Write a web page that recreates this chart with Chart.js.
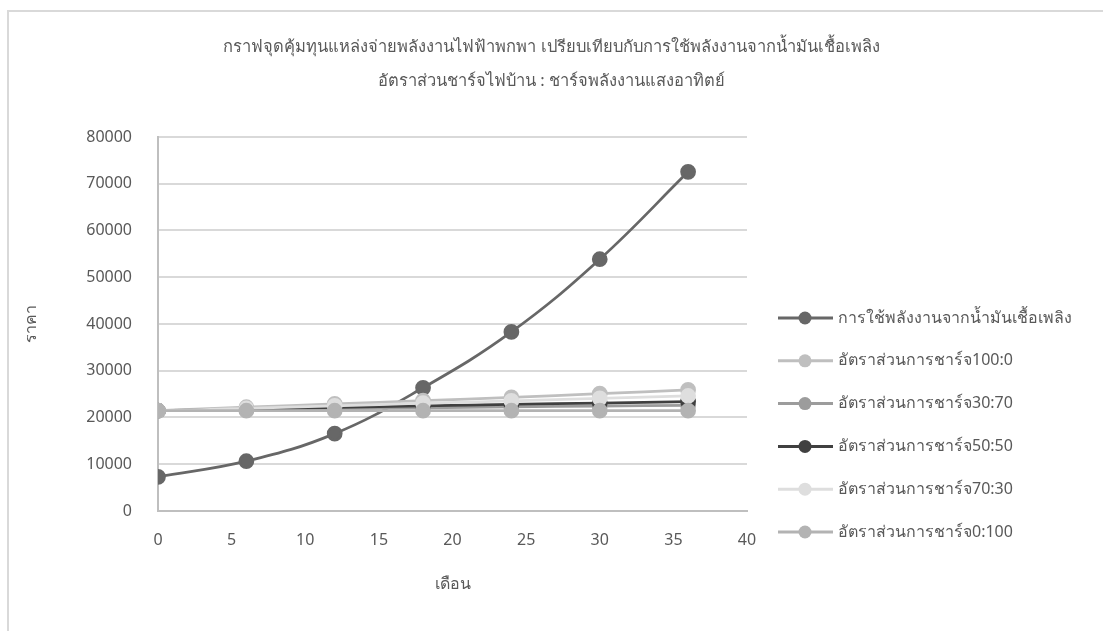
<!DOCTYPE html>
<html>
<head>
<meta charset="utf-8">
<script src="https://cdn.jsdelivr.net/npm/chart.js@4.4.0/dist/chart.umd.min.js"></script>
<style>
  body { margin: 0; background: #fff; }
  #wrap { position: relative; width: 1103px; height: 631px; }
  #frame { position: absolute; left: 7px; top: 10px; right: 0; bottom: 0;
           border-left: 2px solid #d9d9d9; border-top: 2px solid #d9d9d9; }
  canvas { position: absolute; left: 0; top: 0; }
</style>
</head>
<body>
<div id="wrap">
  <div id="frame"></div>
  <canvas id="bepChart" width="1103" height="631"></canvas>
</div>
<script>
// เดือน (แกน x)
const months = [0, 6, 12, 18, 24, 30, 36];

// ราคา (แกน y) ของแต่ละชุดข้อมูล
const fuelCost = [7300, 10650, 16550, 26350, 38300, 53850, 72550];
const ratio100_0 = [21450, 22200, 22900, 23600, 24300, 25100, 25900];
const ratio30_70 = [21450, 21650, 21850, 22050, 22250, 22450, 22600];
const ratio50_50 = [21450, 21800, 22150, 22500, 22800, 23100, 23400];
const ratio70_30 = [21450, 21950, 22500, 23050, 23550, 24100, 24600];
const ratio0_100 = [21450, 21450, 21450, 21450, 21450, 21450, 21450];

const seriesNames = [
    'การใช้พลังงานจากน้ำมันเชื้อเพลิง',
    'อัตราส่วนการชาร์จ100:0',
    'อัตราส่วนการชาร์จ30:70',
    'อัตราส่วนการชาร์จ50:50',
    'อัตราส่วนการชาร์จ70:30',
    'อัตราส่วนการชาร์จ0:100'
];
const seriesValues = [fuelCost, ratio100_0, ratio30_70, ratio50_50, ratio70_30, ratio0_100];
const seriesColors = ['#676767', '#bfbfbf', '#9c9c9c', '#404040', '#dedede', '#b3b3b3'];

const titleLines = [
    'กราฟจุดคุ้มทุนแหล่งจ่ายพลังงานไฟฟ้าพกพา เปรียบเทียบกับการใช้พลังงานจากน้ำมันเชื้อเพลิง',
    'อัตราส่วนชาร์จไฟบ้าน : ชาร์จพลังงานแสงอาทิตย์'
];

const fontFamily = "'Noto Sans', 'DejaVu Sans', sans-serif";
const textColor = '#595959';

// สร้าง dataset ของแต่ละเส้น
const datasets = seriesValues.map((values, i) => ({
    label: seriesNames[i],
    data: months.map((m, j) => ({ x: m, y: values[j] })),
    borderColor: seriesColors[i],
    backgroundColor: seriesColors[i],
    showLine: true,
    tension: 0.4,
    borderWidth: 2.75,
    pointRadius: 6.5,
    pointHoverRadius: 6.5,
    order: seriesValues.length - i
}));

// legend ด้านขวาแบบ Excel (เส้น + จุด)
const sideLegend = {
    id: 'sideLegend',
    afterDraw(chart) {
        const ctx = chart.ctx;
        const x0 = 778, rowTop = 318, rowGap = 42.8;
        ctx.save();
        chart.data.datasets.forEach((ds, i) => {
            const y = rowTop + i * rowGap;
            ctx.strokeStyle = ds.borderColor;
            ctx.lineWidth = 3;
            ctx.beginPath();
            ctx.moveTo(x0, y);
            ctx.lineTo(x0 + 55, y);
            ctx.stroke();
            ctx.fillStyle = ds.backgroundColor;
            ctx.beginPath();
            ctx.arc(x0 + 27, y, 6.5, 0, Math.PI * 2);
            ctx.fill();
            ctx.fillStyle = textColor;
            ctx.font = '16px ' + fontFamily;
            ctx.textBaseline = 'middle';
            ctx.textAlign = 'left';
            ctx.fillText(ds.label, x0 + 60, y);
        });
        ctx.restore();
    }
};

const ctx = document.getElementById('bepChart').getContext('2d');

new Chart(ctx, {
    type: 'scatter',
    data: { datasets: datasets },
    options: {
        responsive: false,
        animation: false,
        layout: { padding: 0 },
        plugins: {
            legend: { display: false },
            tooltip: { enabled: false },
            title: {
                display: true,
                text: titleLines,
                color: textColor,
                font: { family: fontFamily, size: 16.5, weight: 'normal', lineHeight: 2.06 },
                padding: { top: 30, bottom: 39 }
            }
        },
        scales: {
            x: {
                type: 'linear',
                min: 0,
                max: 40,
                ticks: { stepSize: 5, color: textColor, padding: 20,
                         font: { family: fontFamily, size: 16 } },
                grid: { display: false, drawTicks: false },
                border: { color: '#bfbfbf', width: 2 },
                title: { display: true, text: 'เดือน', color: textColor,
                         font: { family: fontFamily, size: 16 }, padding: { top: 4, bottom: 37 } },
                afterFit(scale) { scale.height = 120; }
            },
            y: {
                min: 0,
                max: 80000,
                ticks: { stepSize: 10000, color: textColor, padding: 26,
                         format: { useGrouping: false },
                         font: { family: fontFamily, size: 16 } },
                grid: { color: '#d9d9d9', lineWidth: 2, drawTicks: false },
                border: { color: '#bfbfbf', width: 2 },
                title: { display: true, text: 'ราคา', color: textColor,
                         font: { family: fontFamily, size: 16 }, padding: { top: 22, bottom: 4 } },
                afterFit(scale) { scale.width = 158; }
            },
            // แกนว่างด้านขวา เว้นที่ให้ legend
            legendSpace: {
                type: 'linear',
                position: 'right',
                min: 0,
                max: 80000,
                ticks: { display: false },
                grid: { display: false, drawTicks: false },
                border: { display: false },
                afterFit(scale) { scale.width = 356; }
            }
        }
    },
    plugins: [sideLegend]
});
</script>
</body>
</html>
